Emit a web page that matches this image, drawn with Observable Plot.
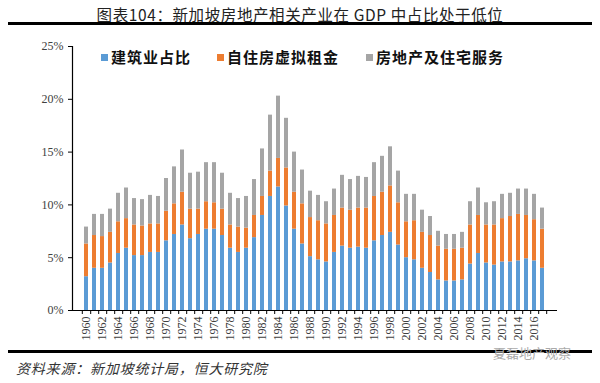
<!DOCTYPE html>
<html><head><meta charset="utf-8">
<script src="https://cdn.jsdelivr.net/npm/d3@7"></script>
<script src="https://cdn.jsdelivr.net/npm/@observablehq/plot@0.6"></script>
<style>
body{margin:0;width:600px;height:383px;position:relative;background:#fff;overflow:hidden;font-family:"Noto Sans CJK SC",sans-serif;}
.abs{position:absolute;}
#title{top:3px;left:0;width:600px;text-align:center;font-size:15.5px;color:#222;letter-spacing:0.6px;}
.hline{left:8px;width:584px;height:3px;background:#000;}
#chart{top:26px;left:0;}
.leg{top:47px;font-size:15px;font-weight:bold;color:#111;letter-spacing:1px;line-height:20px;}
.sw{display:inline-block;width:7px;height:7px;margin-right:3px;vertical-align:2px;}
#src{top:358px;left:16px;font-size:14px;font-style:italic;color:#333;letter-spacing:0.8px;}
#wm{top:343px;left:493px;font-size:13px;color:#aaa;}
</style></head>
<body>
<div id="title" class="abs">图表104：新加坡房地产相关产业在 GDP 中占比处于低位</div>
<div class="abs hline" style="top:22px"></div>
<div id="chart" class="abs"></div>
<div id="legend"></div>
<div class="abs hline" style="top:350px"></div>
<div id="wm" class="abs">夏磊地产观察</div>
<div id="src" class="abs">资料来源：新加坡统计局，恒大研究院</div>
<script>
const years = d3.range(1960, 2018);
const seriesNames = ["建筑业占比", "自住房虚拟租金", "房地产及住宅服务"];
const seriesColors = ["#5B9BD5", "#ED7D31", "#A5A5A5"];
const construction = [3.2,4.0,4.0,4.5,5.4,5.9,5.2,5.2,5.5,5.5,6.6,7.2,8.1,6.8,7.2,7.7,7.7,7.1,5.9,5.5,
  5.9,6.9,9.0,10.8,11.7,9.9,7.7,6.3,5.1,4.8,4.6,5.5,6.1,5.9,6.0,5.9,6.6,7.1,7.4,6.2,
  5.0,4.8,4.0,3.6,2.9,2.8,2.8,2.9,4.4,5.4,4.5,4.3,4.6,4.6,4.7,4.9,4.7,4.0];
const imputedRent = [3.1,3.1,3.0,2.9,3.0,2.8,2.9,2.8,2.7,2.7,2.8,2.9,3.1,2.8,2.4,2.6,2.5,2.5,2.2,2.4,
  1.9,2.1,1.8,2.4,2.7,3.6,3.5,3.8,3.7,3.7,3.6,3.5,3.6,3.6,3.7,3.8,4.2,4.1,4.4,4.0,
  3.4,3.7,3.4,3.5,3.2,3.0,3.0,3.0,3.7,3.6,3.6,3.8,4.1,4.3,4.4,4.1,3.9,3.7];
const realEstateServices = [1.6,2.0,2.1,2.2,2.7,2.9,2.5,2.5,2.7,2.6,3.1,3.5,4.0,3.4,3.5,3.7,3.8,3.4,3.0,2.7,
  3.0,3.4,4.5,5.3,5.9,4.7,3.8,3.2,2.5,2.4,2.1,2.5,3.1,2.9,3.0,2.9,3.2,3.4,3.7,3.0,
  2.6,2.5,2.1,1.8,1.4,1.4,1.4,1.5,2.2,2.6,2.1,2.2,2.3,2.2,2.4,2.5,2.4,2.0];
const yTicks = [0, 5, 10, 15, 20, 25];
const labelYears = years.filter(y => y % 2 === 0);

const seriesValues = [construction, imputedRent, realEstateServices];
const data = [];
seriesNames.forEach((s, si) => years.forEach((y, i) => data.push({year: y, series: s, value: seriesValues[si][i]})));

const step = (600 - 72 - 43) / (58 - 0.45 + 0.24);

const chart = Plot.plot({
  width: 600, height: 324,
  marginTop: 20, marginBottom: 40, marginLeft: 72, marginRight: 43,
  style: {fontFamily: "'Liberation Serif','Times New Roman',serif", fontSize: "12px", color: "#404040", background: "transparent"},
  x: {type: "band", domain: years, paddingInner: 0.45, paddingOuter: 0.12, axis: null, label: null},
  y: {domain: [0, 25], axis: null, label: null},
  color: {domain: seriesNames, range: seriesColors},
  marks: [
    Plot.barY(data, {x: "year", y: "value", fill: "series", order: seriesNames}),
    Plot.axisY({ticks: yTicks, tickFormat: d => d + "%", tickSize: 4, tickPadding: 5, stroke: "#000", fontSize: 12, label: null}),
    Plot.axisX({ticks: years, tickSize: 4, tickFormat: () => "", dx: step / 2, stroke: "#000", label: null}),
    Plot.axisX({ticks: years.slice(0, 1), tickSize: 4, tickFormat: () => "", dx: -step / 2, stroke: "#000", label: null}),
    Plot.axisX({ticks: labelYears, tickSize: 0, tickRotate: -90, tickPadding: 6, fontSize: 12, tickFormat: d => String(d), label: null}),
    Plot.ruleY([0], {stroke: "#000", strokeWidth: 1.2}),
    Plot.frame({anchor: "left", stroke: "#000", strokeWidth: 1.2})
  ]
});
document.getElementById("chart").appendChild(chart);

const legendX = [101, 217, 366];
const leg = document.getElementById("legend");
seriesNames.forEach((s, i) => {
  const d = document.createElement("div");
  d.className = "abs leg";
  d.style.left = legendX[i] + "px";
  d.innerHTML = `<span class="sw" style="background:${seriesColors[i]}"></span>${s}`;
  leg.appendChild(d);
});
</script>
</body></html>
